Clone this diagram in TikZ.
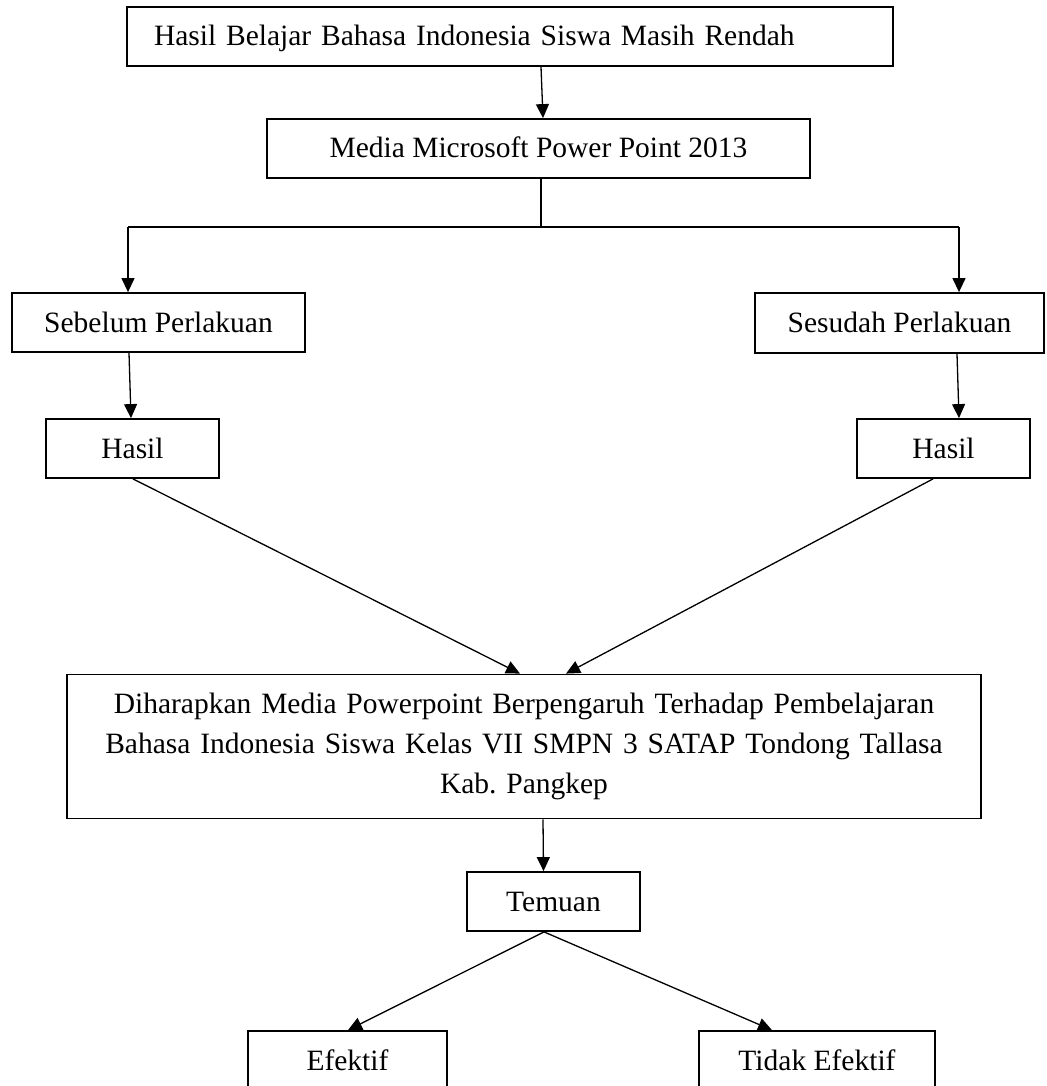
\documentclass[tikz,border=0pt]{standalone}
\usepackage{fontspec}
\setmainfont{Liberation Serif}
\usetikzlibrary{arrows.meta,calc}
\tikzset{
  box/.style={draw, line width=1.8pt, rectangle, inner sep=0pt, text height=25pt, text depth=6pt, align=center},
  bigbox/.style={draw, line width=1.8pt, rectangle, inner sep=0pt, align=center},
  arr/.style={line width=1.3pt, -{Triangle[length=14pt,width=13pt]}},
  ln/.style={line width=1.3pt},
}
\begin{document}
\frenchspacing
\begin{tikzpicture}[x=1pt, y=-1pt, font=\fontsize{29.5}{40}\selectfont\frenchspacing]
\useasboundingbox (0,0) rectangle (1046,1086);
\clip (0,0) rectangle (1046,1086);
\node[box, minimum width=766pt, minimum height=59pt, text width=712pt, align=left, inner xsep=27pt] (top) at (510,36.5) {Hasil Belajar Bahasa Indonesia Siswa Masih Rendah};
\node[box, minimum width=543pt, minimum height=59pt] (media) at (538.5,148.5) {Media Microsoft Power Point 2013};
\node[box, minimum width=293pt, minimum height=59pt] (sebelum) at (158.5,322.5) {Sebelum Perlakuan};
\node[box, minimum width=289pt, minimum height=60pt] (sesudah) at (899.5,323) {Sesudah Perlakuan};
\node[box, minimum width=173pt, minimum height=59pt] (hasilL) at (132.5,448.5) {Hasil};
\node[box, minimum width=173pt, minimum height=59pt] (hasilR) at (943.5,448.5) {Hasil};
\node[bigbox, minimum width=914pt, minimum height=144pt, text width=900pt] (big) at (524,746.5) {Diharapkan Media Powerpoint Berpengaruh Terhadap Pembelajaran\\ Bahasa Indonesia Siswa Kelas VII SMPN 3 SATAP Tondong Tallasa\\ Kab. Pangkep};
\node[box, minimum width=173pt, minimum height=59pt] (temuan) at (553.5,901.5) {Temuan};
\node[box, minimum width=199pt, minimum height=59pt] (efektif) at (347.5,1060.5) {Efektif};
\node[box, minimum width=236pt, minimum height=59pt] (tidak) at (817,1060.5) {Tidak Efektif};
\coordinate (split) at (541,227);
\coordinate (sl) at (128,227);
\coordinate (sr) at (959,227);
\draw[arr] ([xshift=31pt]top.south) -- ([xshift=4.5pt]media.north);
\draw[ln] ([xshift=2.5pt]media.south) -- (split);
\draw[ln] (sl) -- (sr);
\draw[arr] (sl) -- (sebelum.north -| sl);
\draw[arr] (sr) -- (sesudah.north -| sr);
\draw[arr] ([xshift=-29.5pt]sebelum.south) -- ([xshift=-1.5pt]hasilL.north);
\draw[arr] ([xshift=57.5pt]sesudah.south) -- ([xshift=15.5pt]hasilR.north);
\draw[arr] ([xshift=0.5pt]hasilL.south) -- ([xshift=-4pt]big.north);
\draw[arr] ([xshift=-10.5pt]hasilR.south) -- ([xshift=42pt]big.north);
\draw[arr] ([xshift=19pt]big.south) -- ([xshift=-10pt]temuan.north);
\draw[arr] ([xshift=-9.5pt]temuan.south) -- ([xshift=0.5pt]efektif.north);
\draw[arr] ([xshift=-9.5pt]temuan.south) -- ([xshift=-45pt]tidak.north);
\end{tikzpicture}
\end{document}
